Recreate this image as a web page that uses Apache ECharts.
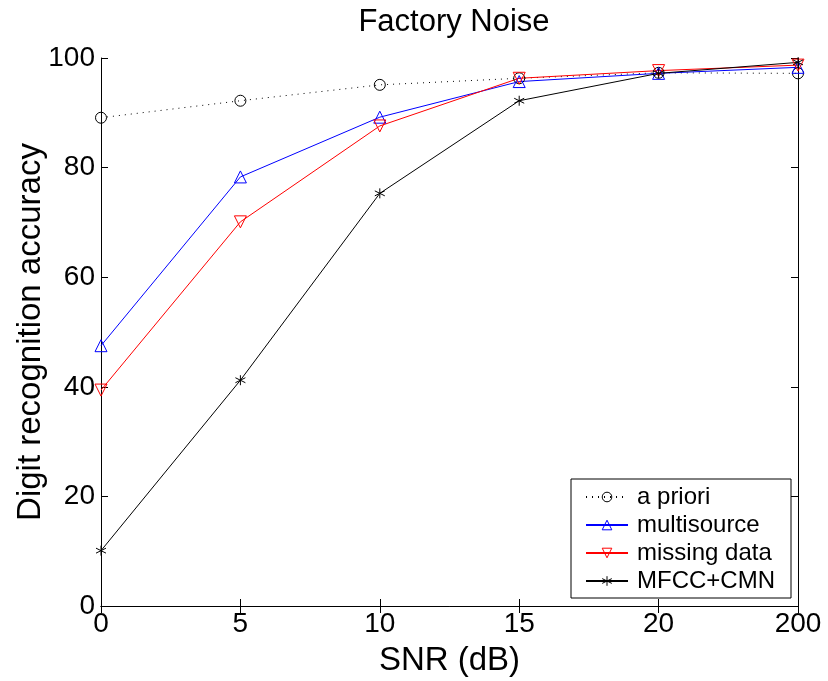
<!DOCTYPE html>
<html><head><meta charset="utf-8">
<script src="https://cdn.jsdelivr.net/npm/echarts@6/dist/echarts.min.js"></script>
<style>html,body{margin:0;padding:0;background:#fff}#c{width:828px;height:681px}</style>
</head><body><div id="c"></div>
<script>
const categories = ['0','5','10','15','20','200'];
const aPriori = [89.1, 92.2, 95.1, 96.3, 97.3, 97.2];
const multisource = [47.5, 78.3, 89.2, 95.7, 97.2, 98.3];
const missingData = [39.4, 70.1, 87.6, 96.3, 97.7, 98.7];
const mfccCmn = [10.1, 41.2, 75.3, 92.2, 97.2, 99.2];
const yTicks = {min: 0, max: 100, interval: 20};

const FONT = '"Liberation Sans", Arial, Helvetica, sans-serif';
const star = 'path://M0,-5L0,5M-4.33,-2.5L4.33,2.5M-4.33,2.5L4.33,-2.5';

const chart = echarts.init(document.getElementById('c'), null, {renderer: 'canvas'});
const axisCommon = {
  axisLine: {show: true, lineStyle: {color: '#000', width: 1}},
  axisTick: {show: true, inside: true, length: 7, lineStyle: {color: '#000'}},
  splitLine: {show: false}
};
chart.setOption({
  animation: false,
  backgroundColor: '#fff',
  title: {text: 'Factory Noise', left: 449, textAlign: 'center', top: 2,
    textStyle: {fontFamily: FONT, fontSize: 31, fontWeight: 'normal', color: '#000'}},
  grid: {left: 101, right: 30, top: 58, bottom: 75, containLabel: false, outerBoundsMode: 'none'},
  legend: {
    right: 37, bottom: 83, orient: 'vertical',
    backgroundColor: '#fff', borderColor: '#000', borderWidth: 1,
    padding: [6, 16, 5, 14], itemGap: 4, itemWidth: 42, itemHeight: 12,
    textStyle: {fontFamily: FONT, fontSize: 24, color: '#000', padding: [0, 0, 0, 4]},
    itemStyle: {borderWidth: 1},
    data: ['a priori', 'multisource', 'missing data', 'MFCC+CMN']
  },
  xAxis: [
    Object.assign({type: 'category', data: categories, boundaryGap: false, position: 'bottom',
      name: 'SNR (dB)', nameLocation: 'middle', nameGap: 38, nameMoveOverlap: false,
      nameTextStyle: {fontFamily: FONT, fontSize: 33, color: '#000'},
      axisLabel: {fontFamily: FONT, fontSize: 28, color: '#000', margin: 4}}, axisCommon),
    Object.assign({type: 'category', data: categories, boundaryGap: false, position: 'top',
      axisLabel: {show: false}}, axisCommon)
  ],
  yAxis: [
    Object.assign({type: 'value', min: yTicks.min, max: yTicks.max, interval: yTicks.interval, position: 'left',
      name: 'Digit recognition accuracy', nameLocation: 'middle', nameGap: 54, nameMoveOverlap: false,
      nameTextStyle: {fontFamily: FONT, fontSize: 33, color: '#000'},
      axisLabel: {fontFamily: FONT, fontSize: 28, color: '#000', margin: 6}}, axisCommon),
    Object.assign({type: 'value', min: yTicks.min, max: yTicks.max, interval: yTicks.interval, position: 'right',
      axisLabel: {show: false}}, axisCommon)
  ],
  series: [
    {name: 'a priori', type: 'line', data: aPriori, symbol: 'circle', symbolSize: 11,
      lineStyle: {color: '#000', width: 1, type: [1, 5]},
      itemStyle: {color: 'rgba(255,255,255,0)', borderColor: '#000', borderWidth: 1}},
    {name: 'multisource', type: 'line', data: multisource, symbol: 'triangle', symbolSize: 12,
      lineStyle: {color: '#0000ff', width: 1},
      itemStyle: {color: 'rgba(255,255,255,0)', borderColor: '#0000ff', borderWidth: 1}},
    {name: 'missing data', type: 'line', data: missingData, symbol: 'triangle', symbolRotate: 180, symbolSize: 12,
      lineStyle: {color: '#ff0000', width: 1},
      itemStyle: {color: 'rgba(255,255,255,0)', borderColor: '#ff0000', borderWidth: 1}},
    {name: 'MFCC+CMN', type: 'line', data: mfccCmn, symbol: star, symbolSize: 10,
      lineStyle: {color: '#000', width: 1},
      itemStyle: {color: 'rgba(0,0,0,0)', borderColor: '#000', borderWidth: 1}}
  ]
});
</script></body></html>
